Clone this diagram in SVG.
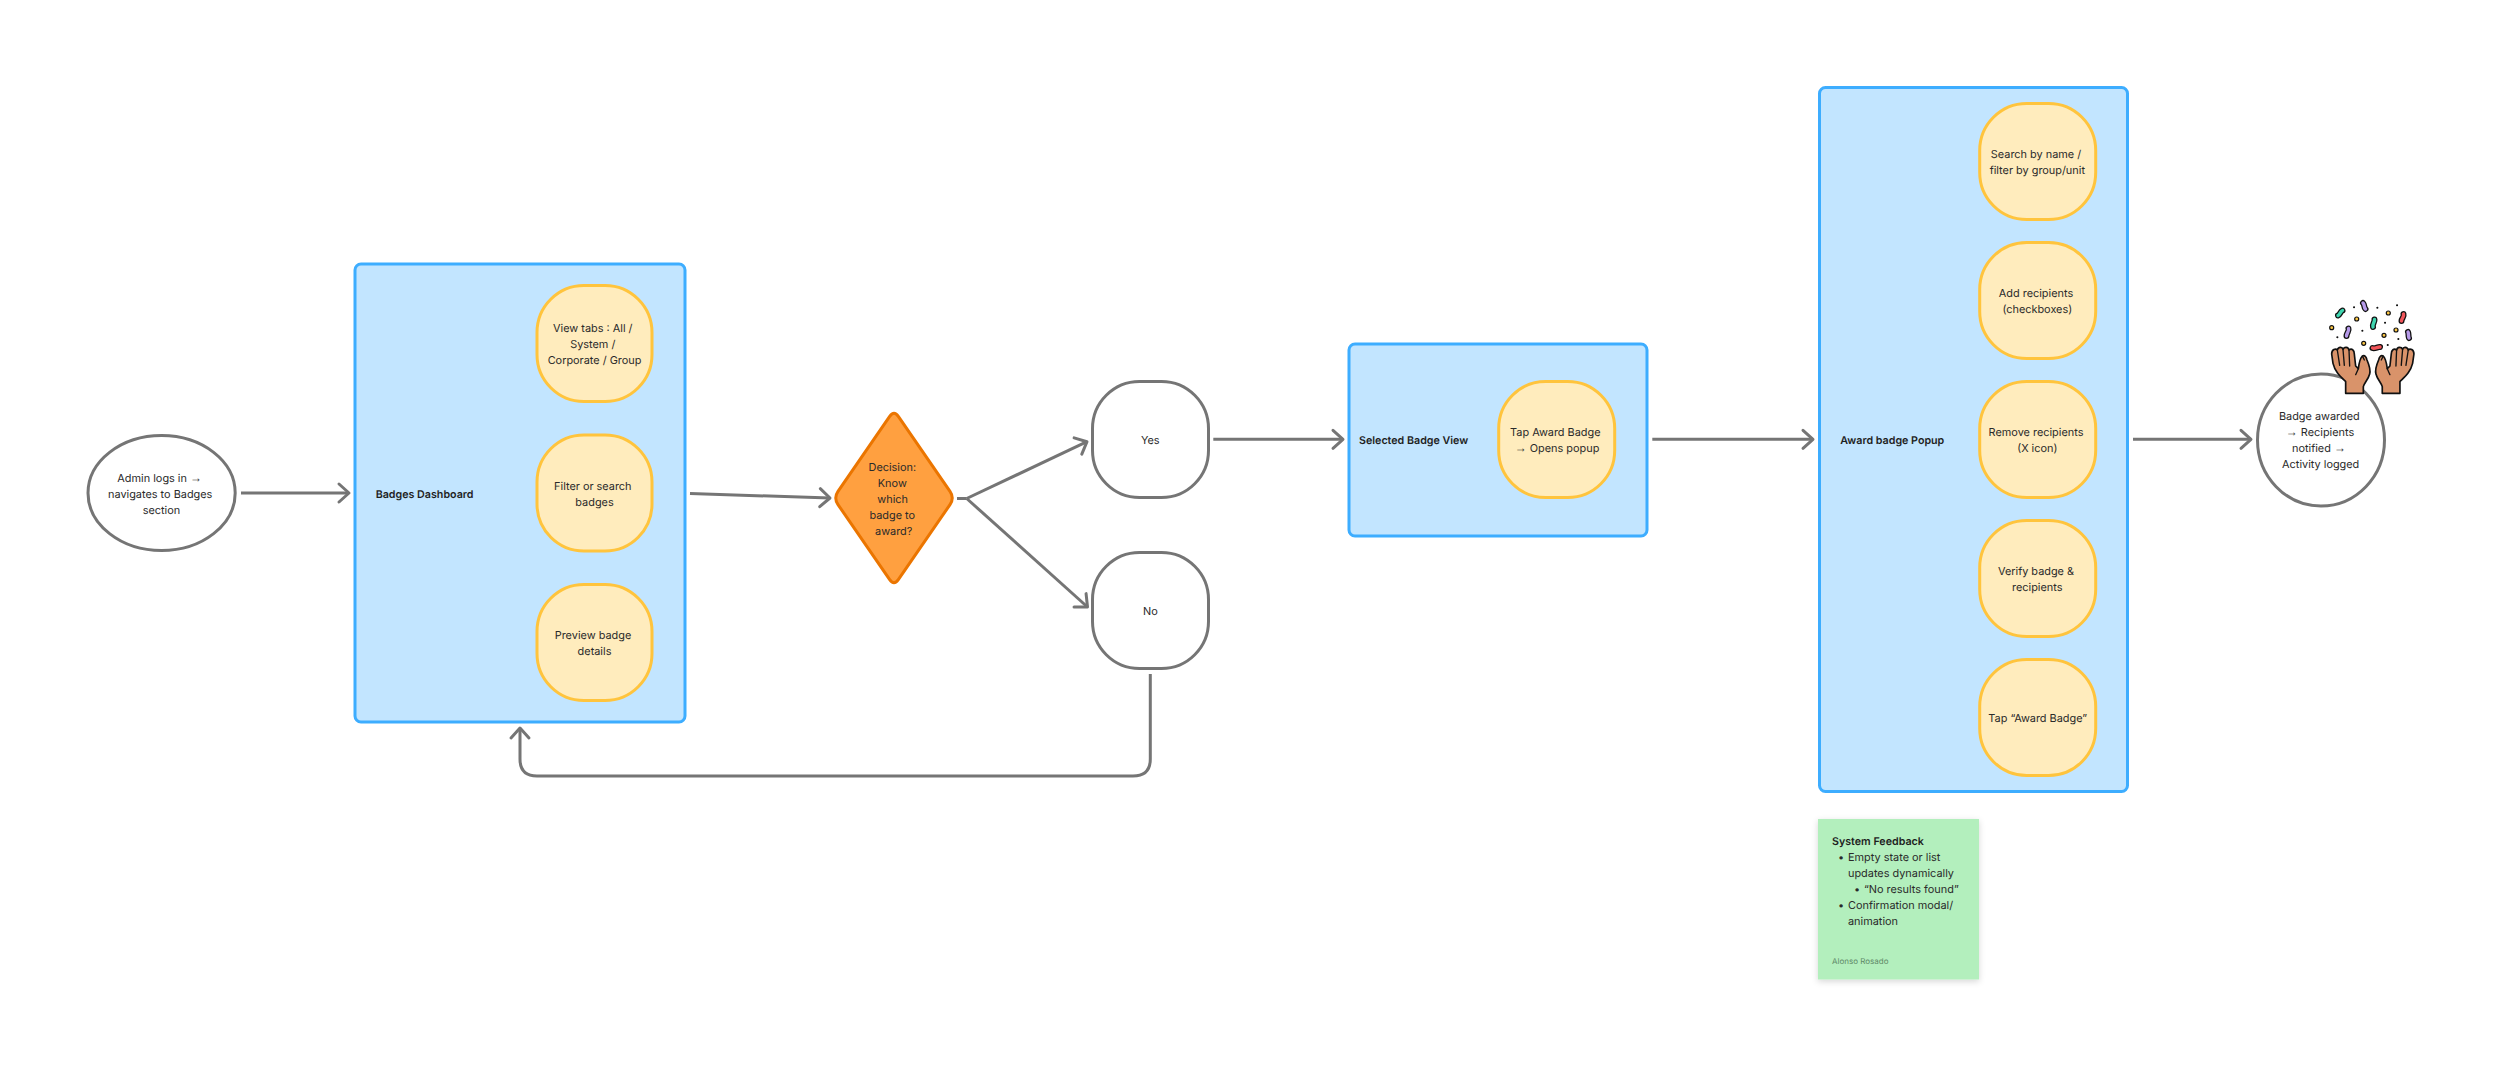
<svg xmlns="http://www.w3.org/2000/svg" width="2500" height="1077" viewBox="0 0 2500 1077">
<style>
text{font-family:Inter,"Liberation Sans",sans-serif;font-size:10.9px;fill:#2a2a2a;text-anchor:middle;text-rendering:geometricPrecision}
text.b{font-weight:600;text-anchor:start;fill:#1e1e1e;font-size:10.7px}
text.l{text-anchor:start}
tspan.a{font-family:"Liberation Sans",sans-serif;font-size:12px}
.panel{fill:#c2e5ff;stroke:#3dadff;stroke-width:3}
.step{fill:#ffecbd;stroke:#ffc43d;stroke-width:3}
.plain{fill:#fff;stroke:#757575;stroke-width:3}
.conn{fill:none;stroke:#757575;stroke-width:3;marker-end:url(#arrow)}
.tail{fill:none;stroke:#757575;stroke-width:3}
.ink{stroke:#111;stroke-width:2;stroke-linecap:round;fill:none}
.rib{fill:none;stroke:#111;stroke-width:6;stroke-linecap:round}
.ribc{fill:none;stroke-width:3.4;stroke-linecap:round}
.ring{fill:#ffc943;stroke:#111;stroke-width:1.2}
.hand{fill:#d9936a;stroke:#111;stroke-width:5;stroke-linejoin:round}
.fing{fill:none;stroke:#111;stroke-width:4;stroke-linecap:round}
</style>
<defs>
<marker id="arrow" markerUnits="userSpaceOnUse" markerWidth="26" markerHeight="26" refX="13" refY="13" orient="auto" overflow="visible">
<path d="M3,4 L13,13 L3,22" fill="none" stroke="#757575" stroke-width="3" stroke-linecap="round" stroke-linejoin="round"/>
</marker>
<filter id="sh" x="-10%" y="-10%" width="120%" height="125%"><feDropShadow dx="0" dy="2" stdDeviation="3" flood-color="#000" flood-opacity=".16"/></filter>
<g id="handShape">
<path class="hand" d="M62,160 L62,125 C45,108 30,95 24,70 L20,42 C20,28 32,24 37,30 C40,20 52,20 54,28 C58,20 70,20 72,30 C80,24 88,30 88,42 L92,78 L100,86 C102,70 104,56 112,48 C120,44 124,52 126,60 C132,74 138,88 134,102 C130,118 118,128 115,140 L115,160 Z"/>
<path class="fing" d="M37,30 L44,76 M54,28 L58,76 M72,30 L74,78 M100,86 L92,104 M113,50 L118,60"/>
</g>
</defs>
<rect width="2500" height="1077" fill="#fff"/>

<g id="connectors">
<path class="conn" d="M241,493 L349,493"/>
<path class="conn" d="M690,493.5 L830,498"/>
<path class="tail" d="M957,498.5 L966.7,498.5"/>
<path class="conn" d="M966.7,498.5 L1087,441.7"/>
<path class="conn" d="M966.7,498.5 L1087.5,607"/>
<path class="conn" d="M1150.3,674 L1150.3,759 Q1150.3,776 1133,776 L537,776 Q520,776 520,759 L520,728"/>
<path class="conn" d="M1213.3,439.3 L1343,439.3"/>
<path class="conn" d="M1652.3,439.3 L1813,439.3"/>
<path class="conn" d="M2133,439.3 L2251,439.3"/>
</g>

<g id="start"><ellipse class="plain" cx="161.6" cy="493" rx="73.6" ry="57.5"/>
<text x="159.7" y="481.5">Admin logs in <tspan class="a">→</tspan></text><text x="160.2" y="497.5">navigates to Badges</text><text x="161.4" y="513.5">section</text></g>

<g id="dashboard"><rect class="panel" x="355" y="264" width="330" height="458" rx="6"/>
<text class="b" x="375.7" y="497.5">Badges Dashboard</text></g>
<g id="view-tabs"><rect class="step" x="537" y="285.5" width="115" height="116" rx="47"/>
<text x="592.8" y="331.5">View tabs : All /</text><text x="592.8" y="347.5">System /</text><text x="594.5" y="363.5">Corporate / Group</text></g>
<g id="filter"><rect class="step" x="537" y="435" width="115" height="116" rx="47"/>
<text x="592.8" y="489.5">Filter or search</text><text x="594.5" y="505.5">badges</text></g>
<g id="preview"><rect class="step" x="537" y="584.5" width="115" height="116" rx="47"/>
<text x="593" y="639">Preview badge</text><text x="594.5" y="655">details</text></g>

<g id="decision"><path d="M898.5,416.6 L950,491.4 Q954.5,498 950,504.6 L898.5,579.4 Q894,586 889.5,579.4 L838,504.6 Q833.5,498 838,491.4 L889.5,416.6 Q894,410 898.5,416.6 Z" fill="#ffa040" stroke="#eb7500" stroke-width="3"/>
<text x="892.3" y="470.7">Decision:</text><text x="892.3" y="486.7">Know</text><text x="892.7" y="502.7">which</text><text x="892.3" y="518.7">badge to</text><text x="893.7" y="534.7">award?</text></g>

<g id="yes"><rect class="plain" x="1092.5" y="381.5" width="116" height="116" rx="47"/><text x="1150.3" y="444">Yes</text></g>
<g id="no"><rect class="plain" x="1092.5" y="552.5" width="116" height="116" rx="47"/><text x="1150.3" y="615">No</text></g>

<g id="selected-view"><rect class="panel" x="1349" y="344" width="298" height="192" rx="6"/>
<text class="b" x="1359" y="444">Selected Badge View</text></g>
<g id="tap-award"><rect class="step" x="1498.7" y="381.5" width="116" height="116" rx="47"/>
<text x="1555.3" y="436">Tap Award Badge</text><text x="1557" y="452"><tspan class="a">→</tspan> Opens popup</text></g>

<g id="award-popup"><rect class="panel" x="1819.5" y="87.5" width="308" height="704" rx="6"/>
<text class="b" x="1840.3" y="444">Award badge Popup</text></g>
<g id="search"><rect class="step" x="1979.7" y="103.5" width="116" height="116" rx="47"/>
<text x="2036" y="158">Search by name /</text><text x="2037.3" y="174">filter by group/unit</text></g>
<g id="add"><rect class="step" x="1979.7" y="242.5" width="116" height="116" rx="47"/>
<text x="2036" y="297">Add recipients</text><text x="2037.3" y="313">(checkboxes)</text></g>
<g id="remove"><rect class="step" x="1979.7" y="381.5" width="116" height="116" rx="47"/>
<text x="2036" y="436">Remove recipients</text><text x="2037.3" y="452">(X icon)</text></g>
<g id="verify"><rect class="step" x="1979.7" y="520.5" width="116" height="116" rx="47"/>
<text x="2036" y="575">Verify badge &amp;</text><text x="2037.3" y="591">recipients</text></g>
<g id="tap-final"><rect class="step" x="1979.7" y="659.5" width="116" height="116" rx="47"/>
<text x="2037.7" y="722">Tap “Award Badge”</text></g>

<g id="end"><ellipse class="plain" cx="2321" cy="440" rx="63.5" ry="66"/>
<text x="2319.3" y="420">Badge awarded</text><text x="2320" y="436"><tspan class="a">→</tspan> Recipients</text><text x="2319" y="452">notified <tspan class="a">→</tspan></text><text x="2320.7" y="468">Activity logged</text></g>

<g id="celebration">
<path class="ink" d="M2354,307.3h.1M2377.3,307.7h.1M2397,305.3h.1M2385,322.7h.1M2362.3,330.7h.1M2337.3,337.3h.1M2398.3,339h.1M2387.7,345h.1"/>
<g class="ring"><circle cx="2356.7" cy="319" r="2"/><circle cx="2388.3" cy="313" r="2"/><circle cx="2331.7" cy="327.7" r="2"/><circle cx="2396" cy="330" r="2"/><circle cx="2384" cy="335.3" r="2"/><circle cx="2363.7" cy="343.3" r="2"/></g>
<path class="rib" d="M2338,315.5 C2340,315 2340,311.5 2342.5,310.5"/><path class="ribc" stroke="#3fd6b0" d="M2338,315.5 C2340,315 2340,311.5 2342.5,310.5"/>
<path class="rib" d="M2363,303 C2365,305 2363.5,307 2365.5,309"/><path class="ribc" stroke="#b79bea" d="M2363,303 C2365,305 2363.5,307 2365.5,309"/>
<path class="rib" d="M2373,327 C2372,324 2375,322 2374.5,319.5"/><path class="ribc" stroke="#3fd6b0" d="M2373,327 C2372,324 2375,322 2374.5,319.5"/>
<path class="rib" d="M2401.5,321 C2401.5,318 2404.5,317 2403.5,314"/><path class="ribc" stroke="#f2555a" d="M2401.5,321 C2401.5,318 2404.5,317 2403.5,314"/>
<path class="rib" d="M2346.5,336 C2346.5,333 2349.5,331 2348.5,328.5"/><path class="ribc" stroke="#b79bea" d="M2346.5,336 C2346.5,333 2349.5,331 2348.5,328.5"/>
<path class="rib" d="M2408,332 C2409,334 2408,336 2409,338"/><path class="ribc" stroke="#b79bea" d="M2408,332 C2409,334 2408,336 2409,338"/>
<path class="rib" d="M2372.5,348 C2375,349 2378,346.5 2380,347"/><path class="ribc" stroke="#f2555a" d="M2372.5,348 C2375,349 2378,346.5 2380,347"/>
<use href="#handShape" transform="translate(2325 340) scale(.3333)"/>
<use href="#handShape" transform="translate(2420.6 340) scale(-.3333 .3333)"/>
</g>

<g id="sticky-note"><rect x="1818" y="819" width="161" height="160.5" fill="#b3efbd" filter="url(#sh)"/>
<text class="b" x="1832" y="845">System Feedback</text>
<text class="l" x="1838" y="861">•</text><text class="l" x="1848" y="861">Empty state or list</text>
<text class="l" x="1848" y="877">updates dynamically</text>
<text class="l" x="1854" y="893">•</text><text class="l" x="1864" y="893">“No results found”</text>
<text class="l" x="1838" y="909">•</text><text class="l" x="1848" y="909">Confirmation modal/</text>
<text class="l" x="1848" y="925">animation</text>
<text class="l" x="1832" y="963.5" style="font-size:8px;fill:#5f8a68">Alonso Rosado</text></g>
</svg>
